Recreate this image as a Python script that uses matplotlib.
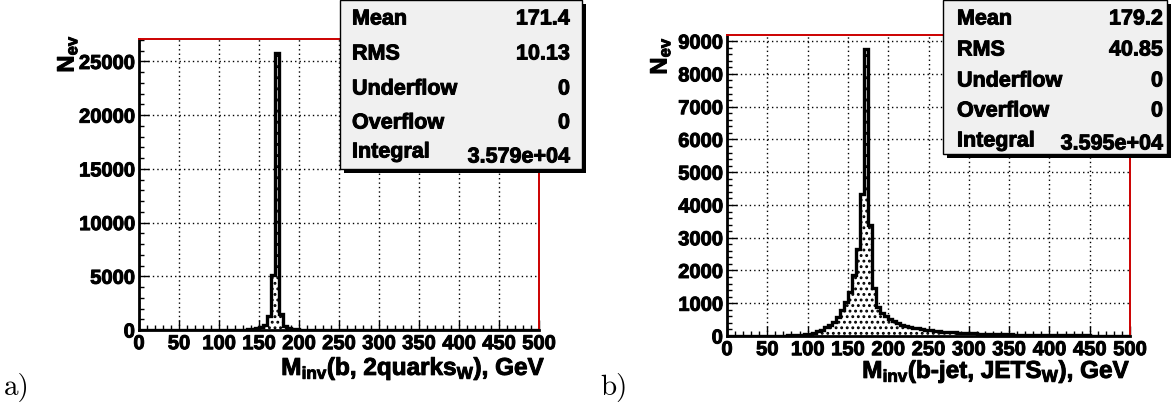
import numpy as np
import matplotlib

matplotlib.use("Agg")
import matplotlib.pyplot as plt
import matplotlib.patheffects as pe
from matplotlib.patches import Rectangle
from matplotlib.ticker import MultipleLocator

# 5 GeV bins from 0 to 500
edges = np.arange(0, 505, 5)

counts_a = [
    0, 0, 0, 0, 0, 0, 0, 0, 0, 0,
    0, 0, 0, 0, 1, 1, 2, 3, 4, 6,
    8, 10, 14, 18, 24, 32, 45, 65, 95, 150,
    280, 450, 1280, 5100, 25800, 1500, 360, 140, 85, 58,
    42, 33, 26, 21, 17, 14, 12, 10, 8, 7,
    6, 5, 5, 4, 4, 3, 3, 3, 2, 2,
    2, 2, 1, 1, 1, 1, 1, 1, 1, 1,
    1, 1, 1, 1, 1, 1, 1, 1, 1, 1,
    0, 0, 0, 0, 0, 0, 0, 0, 0, 0,
    0, 0, 0, 0, 0, 0, 0, 0, 0, 0,
]
counts_b = [
    0, 0, 0, 1, 1, 2, 2, 3, 4, 5,
    6, 8, 10, 12, 15, 19, 24, 30, 40, 52,
    70, 100, 140, 190, 260, 340, 440, 580, 780, 1040,
    1340, 1850, 2650, 4320, 8750, 3400, 1450, 900, 700, 600,
    520, 450, 400, 350, 310, 280, 255, 230, 210, 190,
    175, 160, 148, 137, 127, 118, 110, 103, 96, 90,
    84, 79, 74, 70, 66, 62, 58, 55, 52, 49,
    46, 43, 41, 39, 37, 35, 33, 31, 29, 27,
    26, 25, 23, 22, 21, 20, 19, 18, 17, 16,
    15, 14, 13, 12, 12, 11, 10, 10, 9, 9,
]

stat_names = ["Mean", "RMS", "Underflow", "Overflow", "Integral"]
stats_a = ["171.4", "10.13", "0", "0", "3.579e+04"]
stats_b = ["179.2", "40.85", "0", "0", "3.595e+04"]

xlabel_a = r"M$_{\mathbf{inv}}$(b, 2quarks$_{\mathbf{W}}$), GeV"
xlabel_b = r"M$_{\mathbf{inv}}$(b-jet, JETS$_{\mathbf{W}}$), GeV"
ylabel = r"N$_{\mathbf{ev}}$"

W, H = 1172, 406
plt.rcParams["font.family"] = "Liberation Sans"
plt.rcParams["font.weight"] = "bold"
plt.rcParams["mathtext.fontset"] = "custom"
plt.rcParams["mathtext.rm"] = "Liberation Sans:bold"
plt.rcParams["mathtext.bf"] = "Liberation Sans:bold"
plt.rcParams["mathtext.it"] = "Liberation Sans:bold"
plt.rcParams["hatch.color"] = "black"
plt.rcParams["hatch.linewidth"] = 1.3

# slightly heavier strokes, like the ROOT bitmap fonts
heavy = [pe.withStroke(linewidth=0.7, foreground="black")]

fig = plt.figure(figsize=(W / 100, H / 100), dpi=100)


def px_axes(x0, x1, ytop, ybot):
    return fig.add_axes([x0 / W, 1 - ybot / H, (x1 - x0) / W, (ybot - ytop) / H])


def draw_panel(ax, counts, ymajor, yminor, ymax):
    ax.stairs(counts, edges, fill=True, facecolor="white", edgecolor="black",
              linewidth=0, hatch="...", zorder=2)
    ax.stairs(counts, edges, color="black", linewidth=2.4, zorder=3)
    ax.set_xlim(0, 500)
    ax.set_ylim(0, ymax)
    ax.xaxis.set_major_locator(MultipleLocator(50))
    ax.xaxis.set_minor_locator(MultipleLocator(10))
    ax.yaxis.set_major_locator(MultipleLocator(ymajor))
    ax.yaxis.set_minor_locator(MultipleLocator(yminor))
    ax.tick_params(which="both", direction="in", top=False, right=False,
                   width=1.0, labelsize=14.5, pad=3)
    ax.tick_params(which="major", length=7)
    ax.tick_params(which="minor", length=3.5)
    for lab in ax.get_xticklabels() + ax.get_yticklabels():
        lab.set_fontweight("bold")
        lab.set_path_effects(heavy)
    ax.grid(True, which="major", color="black", linestyle=(0, (1, 2.2)),
            linewidth=1.0, zorder=1)
    ax.set_axisbelow(True)
    for side in ("top", "right"):
        ax.spines[side].set_color("#cc0000")
        ax.spines[side].set_linewidth(1.4)
    for side in ("left", "bottom"):
        ax.spines[side].set_color("black")
        ax.spines[side].set_linewidth(2.0)


def stats_box(x0, x1, y0, y1, values, rows, lx, rx, int_dy):
    fig.patches.append(Rectangle((x0 / W + 4 / W, 1 - (y1 + 4) / H),
                                 (x1 - x0) / W, (y1 - y0) / H,
                                 transform=fig.transFigure, facecolor="black",
                                 edgecolor="none", zorder=5))
    fig.patches.append(Rectangle((x0 / W, 1 - y1 / H), (x1 - x0) / W, (y1 - y0) / H,
                                 transform=fig.transFigure, facecolor="#f0f0f0",
                                 edgecolor="black", linewidth=1.0, zorder=6))
    for i, (name, val) in enumerate(zip(stat_names, values)):
        yl = rows[i] - (int_dy if name == "Integral" else 0)
        fig.text(lx / W, 1 - yl / H, name, ha="left", va="center",
                 fontsize=15.5, fontweight="bold", zorder=7, path_effects=heavy)
        fig.text(rx / W, 1 - rows[i] / H, val, ha="right", va="center",
                 fontsize=15.5, fontweight="bold", zorder=7, path_effects=heavy)


ax_a = px_axes(139, 539, 40, 331)
draw_panel(ax_a, counts_a, 5000, 1000, max(counts_a) * 1.05)
ax_b = px_axes(727, 1130, 36, 337)
draw_panel(ax_b, counts_b, 1000, 200, max(counts_b) * 1.05)

# axis titles
fig.text(545 / W, 1 - 376 / H, xlabel_a, ha="right", va="baseline", fontsize=17.5,
         path_effects=heavy)
fig.text(1130 / W, 1 - 379 / H, xlabel_b, ha="right", va="baseline", fontsize=17.5,
         path_effects=heavy)
fig.text(67 / W, 1 - 36 / H, ylabel, ha="center", va="top", rotation=90, fontsize=17,
         path_effects=heavy)
fig.text(660 / W, 1 - 38 / H, ylabel, ha="center", va="top", rotation=90, fontsize=17,
         path_effects=heavy)

# panel letters
fig.text(4 / W, 1 - 395 / H, "a)", family="cmr10", fontweight="normal", fontsize=21,
         ha="left", va="baseline")
fig.text(600 / W, 1 - 395 / H, "b)", family="cmr10", fontweight="normal", fontsize=21,
         ha="left", va="baseline")

stats_box(340, 582, 1, 170, stats_a, [20, 55, 90, 124, 158], 352, 570, 5)
stats_box(943, 1167, 1, 155, stats_b, [20, 51, 82, 112, 145], 957, 1163, 3)

fig.savefig("out.png", dpi=100)
